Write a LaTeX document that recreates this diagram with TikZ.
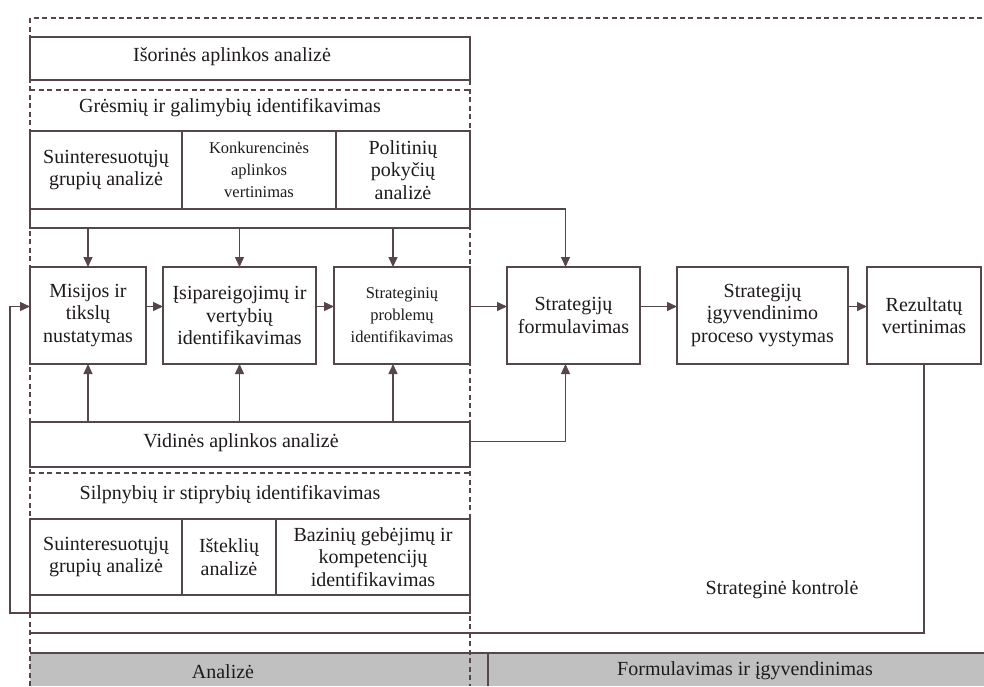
\documentclass[tikz,border=0pt]{standalone}
\usepackage{fontspec}
\setmainfont{Liberation Serif}
\usetikzlibrary{arrows.meta,positioning}
\definecolor{inkline}{RGB}{84,70,74}
\definecolor{inktext}{RGB}{30,26,28}
\definecolor{bandgray}{RGB}{192,192,192}
\newcommand{\boxfont}{\fontsize{20}{22.5}\selectfont}
\newcommand{\smallboxfont}{\fontsize{16.5}{22}\selectfont}
\tikzset{
    plain-box/.style = {draw=inkline, fill=white, line width=1.4pt, rectangle, inner sep=2pt, outer sep=0pt, align=center, text=inktext, font=\boxfont, minimum height=97pt},
    cell-box/.style = {draw=inkline, line width=1.4pt, rectangle, inner sep=2pt, outer sep=0pt, align=center, text=inktext, font=\boxfont},
    frame-box/.style = {draw=inkline, line width=1.4pt, rectangle, inner sep=0pt, outer sep=0pt},
    title-text/.style = {text=inktext, font=\boxfont, inner sep=1pt},
    band-cell/.style = {fill=bandgray, rectangle, inner sep=0pt, outer sep=0pt, minimum height=33pt},
    dash-line/.style = {draw=inkline, line width=1.1pt, dash pattern=on 5pt off 3.5pt},
    link-line/.style = {draw=inkline, line width=1.4pt},
    flow-arrow/.style = {link-line, -{Triangle[length=10pt,width=9pt]}},
}

\begin{document}
\begin{tikzpicture}[x=1pt, y=-1pt]
\useasboundingbox (0,0) rectangle (984,686);

% bottom band
\node[band-cell, minimum width=458pt] (band-a) at (259,669.5) {};
\node[band-cell, minimum width=496pt] (band-b) at (736,669.5) {};
\draw[link-line] (band-a.north west) -- (band-b.north east);
\draw[link-line] (band-a.north east) -- (band-a.south east);
\node[title-text] (band-a-text) at (223,672) {Analizė};
\node[title-text] (band-b-text) at (745,671) {Formulavimas ir įgyvendinimas};

% external environment
\node[frame-box, minimum width=440pt, minimum height=43pt] (ext-title) at (250,58.5) {};
\node[title-text] at (232,57) {Išorinės aplinkos analizė};
\draw[dash-line] (30,90) -- (470,90);
\node[title-text] (threats) at (230,108) {Grėsmių ir galimybių identifikavimas};
\node[frame-box, minimum width=440pt, minimum height=97pt] (ext-frame) at (250,179.5) {};
\node[cell-box, minimum width=152pt, minimum height=78pt] (ext-a) at (106,170) {Suinteresuotųjų\\grupių analizė};
\node[cell-box, minimum width=154pt, minimum height=78pt, font=\smallboxfont] (ext-b) at (259,170) {Konkurencinės\\aplinkos\\vertinimas};
\node[cell-box, minimum width=134pt, minimum height=78pt] (ext-c) at (403,170) {Politinių\\pokyčių\\analizė};

% main flow
\node[plain-box, minimum width=116pt] (mission) at (88,315.5) {Misijos ir\\tikslų\\nustatymas};
\node[plain-box, minimum width=153pt, right=17pt of mission] (values) {Įsipareigojimų ir\\vertybių\\identifikavimas};
\node[plain-box, minimum width=136pt, right=18pt of values, font=\smallboxfont] (issues) {Strateginių\\problemų\\identifikavimas};
\node[plain-box, minimum width=133pt, right=37pt of issues] (formulate) {Strategijų\\formulavimas};
\node[plain-box, minimum width=171pt, right=37pt of formulate] (implement) {Strategijų\\įgyvendinimo\\proceso vystymas};
\node[plain-box, minimum width=114pt, right=19pt of implement] (results) {Rezultatų\\vertinimas};

% internal environment
\node[frame-box, minimum width=440pt, minimum height=45pt] (int-title) at (250,444.5) {};
\node[title-text] at (241,443) {Vidinės aplinkos analizė};
\draw[dash-line] (30,473) -- (470,473);
\node[title-text] (weak) at (230,495) {Silpnybių ir stiprybių identifikavimas};
\node[frame-box, minimum width=440pt, minimum height=94pt] (int-frame) at (250,566) {};
\node[cell-box, minimum width=152pt, minimum height=76pt] (int-a) at (106,557) {Suinteresuotųjų\\grupių analizė};
\node[cell-box, minimum width=94pt, minimum height=76pt] (int-b) at (229,557) {Išteklių\\analizė};
\node[cell-box, minimum width=194pt, minimum height=76pt] (int-c) at (373,557) {Bazinių gebėjimų ir\\kompetencijų\\identifikavimas};

% arrows
\foreach \target/\dx in {mission/0, values/0, issues/-9} {
    \draw[flow-arrow] ([xshift=\dx pt]ext-frame.south -| \target.north) -- ([xshift=\dx pt]\target.north);
    \draw[flow-arrow] ([xshift=\dx pt]int-title.north -| \target.south) -- ([xshift=\dx pt]\target.south);
}
\draw[flow-arrow] ([yshift=9pt]mission.east) -- ([yshift=9pt]values.west);
\draw[flow-arrow] ([yshift=9pt]values.east) -- ([yshift=9pt]issues.west);
\draw[flow-arrow] ([yshift=9pt]issues.east) -- ([yshift=9pt]formulate.west);
\draw[flow-arrow] ([yshift=9pt]formulate.east) -- ([yshift=9pt]implement.west);
\draw[flow-arrow] ([yshift=9pt]implement.east) -- ([yshift=9pt]results.west);
\draw[flow-arrow] (ext-c.south east) -| ([xshift=-8pt]formulate.north);
\draw[flow-arrow] ([yshift=3pt]int-title.east) -| ([xshift=-8pt]formulate.south);
\draw[flow-arrow] (int-frame.south west) -- ++(-20,0) |- ([yshift=9pt]mission.west);

% strategic control
\coordinate (ctrl-end) at (30,633);
\draw[link-line] (results.south) |- (ctrl-end);
\node[title-text] (control) at (782,590) {Strateginė kontrolė};

% analysis column
\draw[dash-line] (30,686) -- (30,18) -- (984,18);
\draw[dash-line] (470,80) -- (470,686);
\end{tikzpicture}
\end{document}
